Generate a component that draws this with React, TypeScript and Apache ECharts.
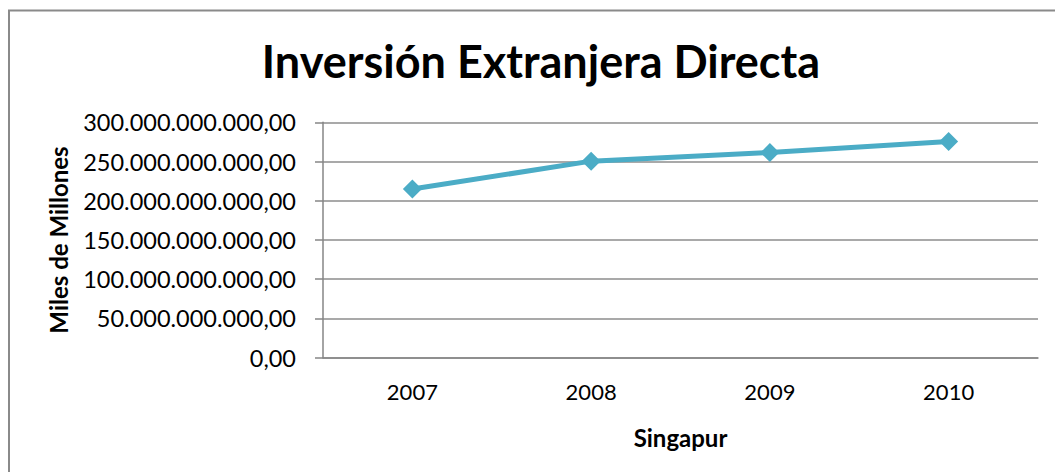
import React, { useEffect, useRef } from "react";
import * as echarts from "echarts";

const titleText = "Inversión Extranjera Directa";
const xAxisName = "Singapur";
const yAxisName = "Miles de Millones";
const categories = ["2007", "2008", "2009", "2010"];
const values = [215e9, 250.5e9, 261.5e9, 275.5e9];
const yMin = 0;
const yMax = 300e9;
const yInterval = 50e9;

function fmt(v: number): string {
  const int = Math.round(v).toString();
  const grouped = int.replace(/\B(?=(\d{3})+(?!\d))/g, ".");
  return grouped + ",00";
}

export default function App() {
  const ref = useRef<HTMLDivElement>(null);
  useEffect(() => {
    if (!ref.current) return;
    const chart = echarts.init(ref.current, undefined, { renderer: "svg" });
    const font = "Lato, 'Open Sans', sans-serif";
    chart.setOption({
      animation: false,
      backgroundColor: "#ffffff",
      textStyle: { fontFamily: font },
      title: {
        text: titleText,
        left: 536,
        textAlign: "center",
        top: 33,
        textStyle: { fontFamily: font, fontWeight: "bold", fontSize: 45, color: "#000" },
      },
      graphic: [
        {
          type: "rect",
          shape: { x: 9, y: 10.5, width: 1200, height: 600 },
          style: { fill: "none", stroke: "#8a8a8a", lineWidth: 2 },
          silent: true,
        },
      ],
      grid: { left: 323, top: 122.3, right: 17, bottom: 114.3, containLabel: false },
      xAxis: {
        type: "category",
        data: categories,
        boundaryGap: true,
        name: xAxisName,
        nameLocation: "middle",
        nameGap: 68,
        nameTextStyle: { fontFamily: font, fontWeight: "bold", fontSize: 24, color: "#000" },
        axisLine: { lineStyle: { color: "#868686", width: 1.5 } },
        axisTick: { show: false },
        axisLabel: { fontFamily: font, fontSize: 22, color: "#000", margin: 23 },
      },
      yAxis: {
        type: "value",
        min: yMin,
        max: yMax,
        interval: yInterval,
        name: yAxisName,
        nameLocation: "middle",
        nameGap: 253,
        nameRotate: 90,
        nameTextStyle: { fontFamily: font, fontWeight: "bold", fontSize: 24, color: "#000" },
        axisLine: { show: true, lineStyle: { color: "#868686", width: 1.5 } },
        axisTick: { show: true, length: 8, lineStyle: { color: "#868686", width: 1.5 } },
        splitLine: { lineStyle: { color: "#8c8c8c", width: 1.5 } },
        axisLabel: { fontFamily: font, fontSize: 23.5, color: "#000", margin: 27, formatter: (v: number) => fmt(v) },
      },
      series: [
        {
          type: "line",
          data: values,
          symbol: "diamond",
          symbolSize: 19,
          lineStyle: { color: "#4bacc6", width: 5 },
          itemStyle: { color: "#4bacc6" },
        },
      ],
    });
    return () => chart.dispose();
  }, []);
  return (
    <div
      ref={ref}
      style={{ position: "absolute", left: 0, top: 0, width: 1055, height: 472 }}
    />
  );
}
